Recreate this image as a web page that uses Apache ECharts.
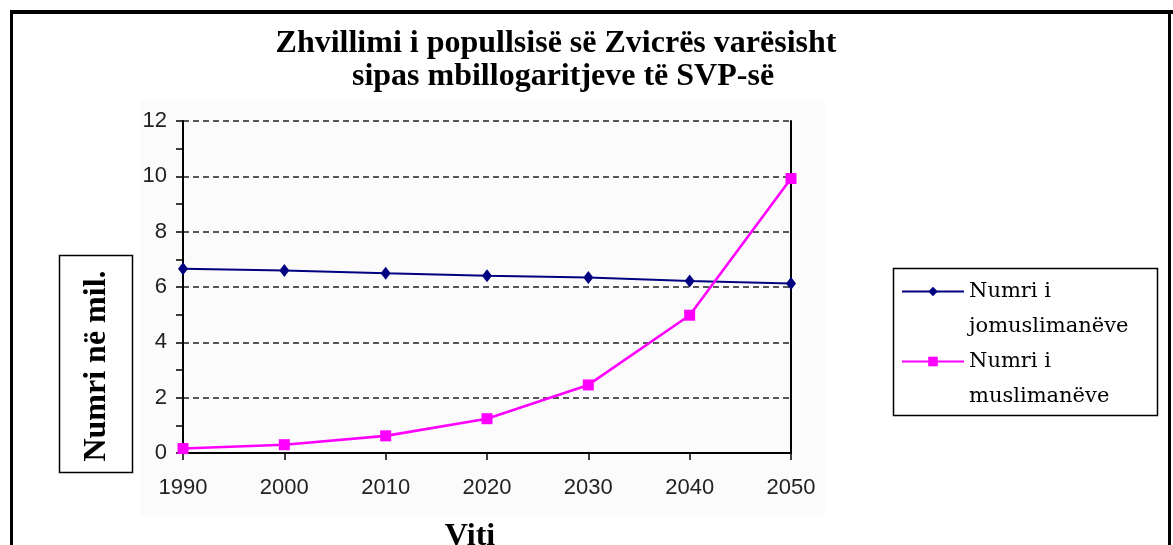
<!DOCTYPE html>
<html><head><meta charset="utf-8">
<script src="https://cdn.jsdelivr.net/npm/echarts@6/dist/echarts.min.js"></script>
<style>html,body{margin:0;padding:0;background:#fff}#c{width:1173px;height:545px}</style>
</head><body><div id="c"></div>
<script>
const years = ['1990', '2000', '2010', '2020', '2030', '2040', '2050'];
const nonMuslims = [6.66, 6.6, 6.5, 6.41, 6.34, 6.22, 6.13];
const muslims = [0.16, 0.3, 0.62, 1.24, 2.46, 4.98, 9.92];
const seriesNames = ['Numri i jomuslimanëve', 'Numri i muslimanëve'];
const titleLines = ['Zhvillimi i popullsisë së Zvicrës varësisht', 'sipas mbillogaritjeve të SVP-së'];
const xName = 'Viti';
const yName = 'Numri në mil.';

const chart = echarts.init(document.getElementById('c'), null, {renderer: 'canvas'});
const serif = '"Liberation Serif", "Times New Roman", serif';
const sans = '"Liberation Sans", Arial, sans-serif';
const legendText = {
  fontFamily: '"DejaVu Serif", serif', fontSize: 21, color: '#000', lineHeight: 35
};
const legendFmt = n => '\n' + n.replace('Numri i ', 'Numri i\n');
chart.setOption({
  animation: false,
  backgroundColor: '#fff',
  title: [
    {text: titleLines[0], left: 551, top: 23, textAlign: 'center',
     textStyle: {fontFamily: serif, fontWeight: 'bold', fontSize: 32, color: '#000'}},
    {text: titleLines[1], left: 558, top: 56, textAlign: 'center',
     textStyle: {fontFamily: serif, fontWeight: 'bold', fontSize: 32, color: '#000'}},
    {text: xName, left: 465, top: 516, textAlign: 'center',
     textStyle: {fontFamily: serif, fontWeight: 'bold', fontSize: 32, color: '#000'}}
  ],
  graphic: [
    {type: 'rect', z: -10, shape: {x: 140, y: 100, width: 685, height: 415}, style: {fill: '#fbfbfb'}},
    {type: 'line', shape: {x1: 10, y1: 12, x2: 1173, y2: 12}, style: {stroke: '#000', lineWidth: 4}},
    {type: 'line', shape: {x1: 11.5, y1: 10, x2: 11.5, y2: 545}, style: {stroke: '#000', lineWidth: 3}},
    {type: 'line', shape: {x1: 1169.5, y1: 10, x2: 1169.5, y2: 545}, style: {stroke: '#000', lineWidth: 3}},
    {type: 'rect', shape: {x: 59.5, y: 255.5, width: 73, height: 217}, style: {fill: '#fff', stroke: '#000', lineWidth: 1.5}},
    {type: 'text', x: 97, y: 366, rotation: Math.PI / 2,
     style: {text: yName, fontFamily: serif, fontWeight: 'bold', fontSize: 32, fill: '#000', align: 'center', verticalAlign: 'middle'}},
    {type: 'rect', shape: {x: 893.5, y: 268.5, width: 264, height: 147}, style: {fill: '#fff', stroke: '#000', lineWidth: 1.5}, z: 0}
  ],
  legend: [
    {data: [seriesNames[0]], orient: 'vertical', left: 901, top: 239, padding: 0,
     itemWidth: 62, itemHeight: 12, itemGap: 4, formatter: legendFmt, textStyle: legendText, z: 5},
    {data: [seriesNames[1]], orient: 'vertical', left: 901, top: 309, padding: 0,
     itemWidth: 62, itemHeight: 12, itemGap: 4, formatter: legendFmt, textStyle: legendText, z: 5}
  ],
  grid: {left: 183, right: 382, top: 121, bottom: 92, containLabel: false},
  xAxis: [
    {type: 'category', data: years, boundaryGap: false,
     axisLine: {lineStyle: {color: '#000', width: 2}},
     axisTick: {show: true, length: 7, inside: false, lineStyle: {color: '#000', width: 1.5}},
     axisLabel: {color: '#222', fontFamily: sans, fontSize: 22, margin: 24},
     splitLine: {show: false}},
    {type: 'category', data: years, boundaryGap: false, position: 'top',
     axisLine: {lineStyle: {color: '#000', width: 2}}, axisTick: {show: false}, axisLabel: {show: false}}
  ],
  yAxis: [
    {type: 'value', min: 0, max: 12, interval: 2,
     axisLine: {show: true, lineStyle: {color: '#000', width: 2}},
     axisTick: {show: true, length: 7, lineStyle: {color: '#000', width: 1.5}},
     minorTick: {show: true, splitNumber: 2, length: 7, lineStyle: {color: '#000', width: 1.5}},
     axisLabel: {color: '#222', fontFamily: sans, fontSize: 22, margin: 16},
     splitLine: {show: true, lineStyle: {color: '#222', width: 1.6, type: [6, 4]}}},
    {type: 'value', min: 0, max: 12, interval: 2, position: 'right',
     axisLine: {show: true, lineStyle: {color: '#000', width: 2}}, axisTick: {show: false},
     axisLabel: {show: false}, splitLine: {show: false}}
  ],
  series: [
    {name: seriesNames[0], type: 'line', data: nonMuslims, xAxisIndex: 0, yAxisIndex: 0,
     symbol: 'diamond', symbolSize: [10, 13], showSymbol: true,
     lineStyle: {color: '#000080', width: 2}, itemStyle: {color: '#000080'}, z: 3},
    {name: seriesNames[1], type: 'line', data: muslims, xAxisIndex: 0, yAxisIndex: 0,
     symbol: 'rect', symbolSize: 11, showSymbol: true,
     lineStyle: {color: '#ff00ff', width: 2.6}, itemStyle: {color: '#ff00ff'}, z: 4}
  ]
});
</script></body></html>
